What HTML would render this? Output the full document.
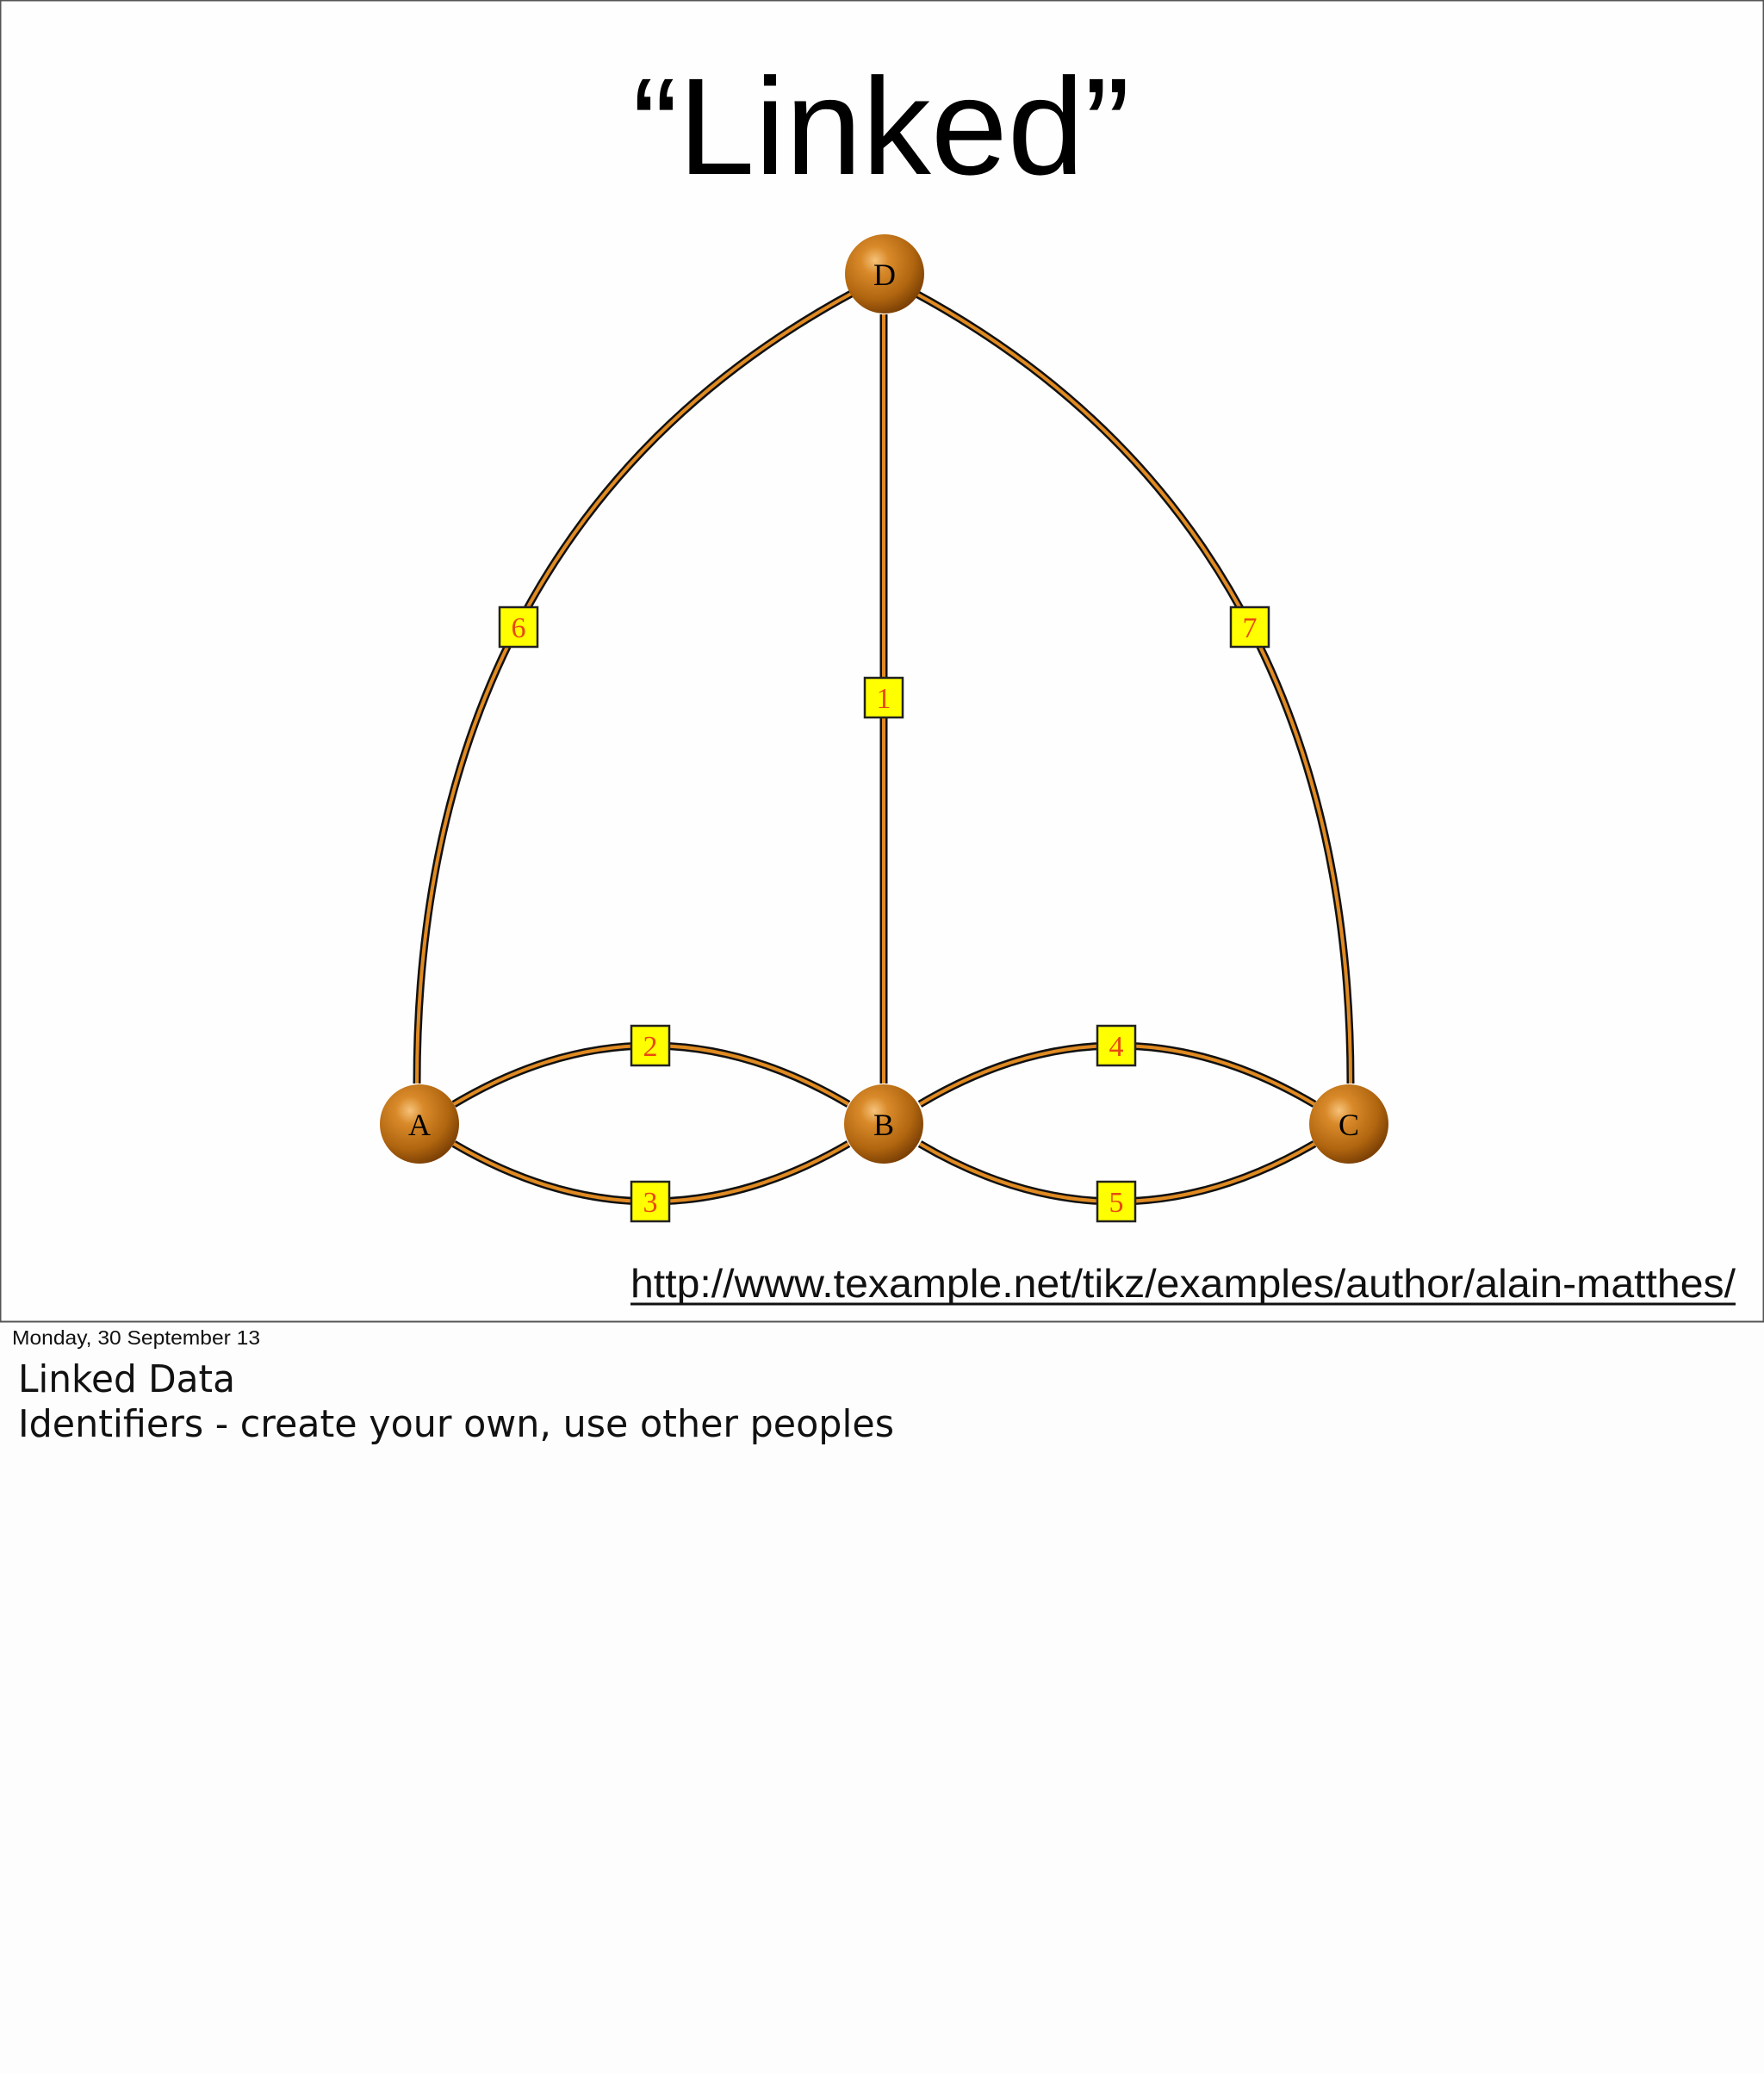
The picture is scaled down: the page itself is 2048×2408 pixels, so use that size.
<!DOCTYPE html>
<html><head><meta charset="utf-8"><style>
html,body{margin:0;padding:0;background:#fdfdfd;}
svg{display:block;}
</style></head><body>
<svg width="2048" height="2408" viewBox="0 0 2048 2408" xmlns="http://www.w3.org/2000/svg">
<defs>
<radialGradient id="ball" cx="0.38" cy="0.33" r="0.7">
<stop offset="0" stop-color="#f6c27a"/>
<stop offset="0.25" stop-color="#d98a2a"/>
<stop offset="0.7" stop-color="#b0650f"/>
<stop offset="1" stop-color="#7a3f05"/>
</radialGradient>
</defs>
<rect x="0" y="0" width="2048" height="2408" fill="#fdfdfd"/>
<rect x="0.5" y="0.5" width="2047" height="1534" fill="#fefefe" stroke="#555" stroke-width="2"/>
<text x="734" y="202" font-family="Liberation Sans, sans-serif" font-size="160" textLength="578" lengthAdjust="spacingAndGlyphs" fill="#000">“Linked”</text>

<g fill="none">
<g stroke="#111" stroke-width="9">
<path d="M484,1258 C484,880 620,540 990,340"/>
<path d="M1568,1258 C1568,880 1432,540 1062,340"/>
<path d="M1026,365 L1026,1258"/>
<path d="M527,1282 Q755,1146 985,1282"/>
<path d="M527,1328 Q755,1462 985,1328"/>
<path d="M1068,1282 Q1296,1146 1526,1282"/>
<path d="M1068,1328 Q1296,1462 1526,1328"/>
</g>
<g stroke="#e08a22" stroke-width="4">
<path d="M484,1258 C484,880 620,540 990,340"/>
<path d="M1568,1258 C1568,880 1432,540 1062,340"/>
<path d="M1026,365 L1026,1258"/>
<path d="M527,1282 Q755,1146 985,1282"/>
<path d="M527,1328 Q755,1462 985,1328"/>
<path d="M1068,1282 Q1296,1146 1526,1282"/>
<path d="M1068,1328 Q1296,1462 1526,1328"/>
</g>
</g>

<g font-family="Liberation Serif, serif" font-size="36" text-anchor="middle" fill="#000">
<circle cx="1027" cy="318" r="46" fill="url(#ball)"/><text x="1027" y="331">D</text>
<circle cx="487" cy="1305" r="46" fill="url(#ball)"/><text x="487" y="1318">A</text>
<circle cx="1026" cy="1305" r="46" fill="url(#ball)"/><text x="1026" y="1318">B</text>
<circle cx="1566" cy="1305" r="46" fill="url(#ball)"/><text x="1566" y="1318">C</text>
</g>

<g font-family="Liberation Serif, serif" font-size="34" text-anchor="middle" fill="#e84a10" stroke="none">
<rect x="580" y="705" width="44" height="46" fill="#ffff00" stroke="#222" stroke-width="2.5"/><text x="602" y="740">6</text>
<rect x="1429" y="705" width="44" height="46" fill="#ffff00" stroke="#222" stroke-width="2.5"/><text x="1451" y="740">7</text>
<rect x="1004" y="787" width="44" height="46" fill="#ffff00" stroke="#222" stroke-width="2.5"/><text x="1026" y="822">1</text>
<rect x="733" y="1191" width="44" height="46" fill="#ffff00" stroke="#222" stroke-width="2.5"/><text x="755" y="1226">2</text>
<rect x="733" y="1372" width="44" height="46" fill="#ffff00" stroke="#222" stroke-width="2.5"/><text x="755" y="1407">3</text>
<rect x="1274" y="1191" width="44" height="46" fill="#ffff00" stroke="#222" stroke-width="2.5"/><text x="1296" y="1226">4</text>
<rect x="1274" y="1372" width="44" height="46" fill="#ffff00" stroke="#222" stroke-width="2.5"/><text x="1296" y="1407">5</text>
</g>

<text x="732" y="1506" font-family="Liberation Sans, sans-serif" font-size="46" textLength="1283" lengthAdjust="spacingAndGlyphs" fill="#111">http://www.texample.net/tikz/examples/author/alain-matthes/</text>
<line x1="732" y1="1514" x2="2015" y2="1514" stroke="#111" stroke-width="3"/>

<text x="14" y="1561" font-family="Liberation Sans, sans-serif" font-size="23" textLength="288" lengthAdjust="spacingAndGlyphs" fill="#111">Monday, 30 September 13</text>
<text x="21" y="1616" font-family="DejaVu Sans, sans-serif" font-size="44" textLength="252" lengthAdjust="spacingAndGlyphs" fill="#111">Linked Data</text>
<text x="21" y="1668" font-family="DejaVu Sans, sans-serif" font-size="44" textLength="1017" lengthAdjust="spacingAndGlyphs" fill="#111">Identifiers - create your own, use other peoples</text>
</svg>
</body></html>
